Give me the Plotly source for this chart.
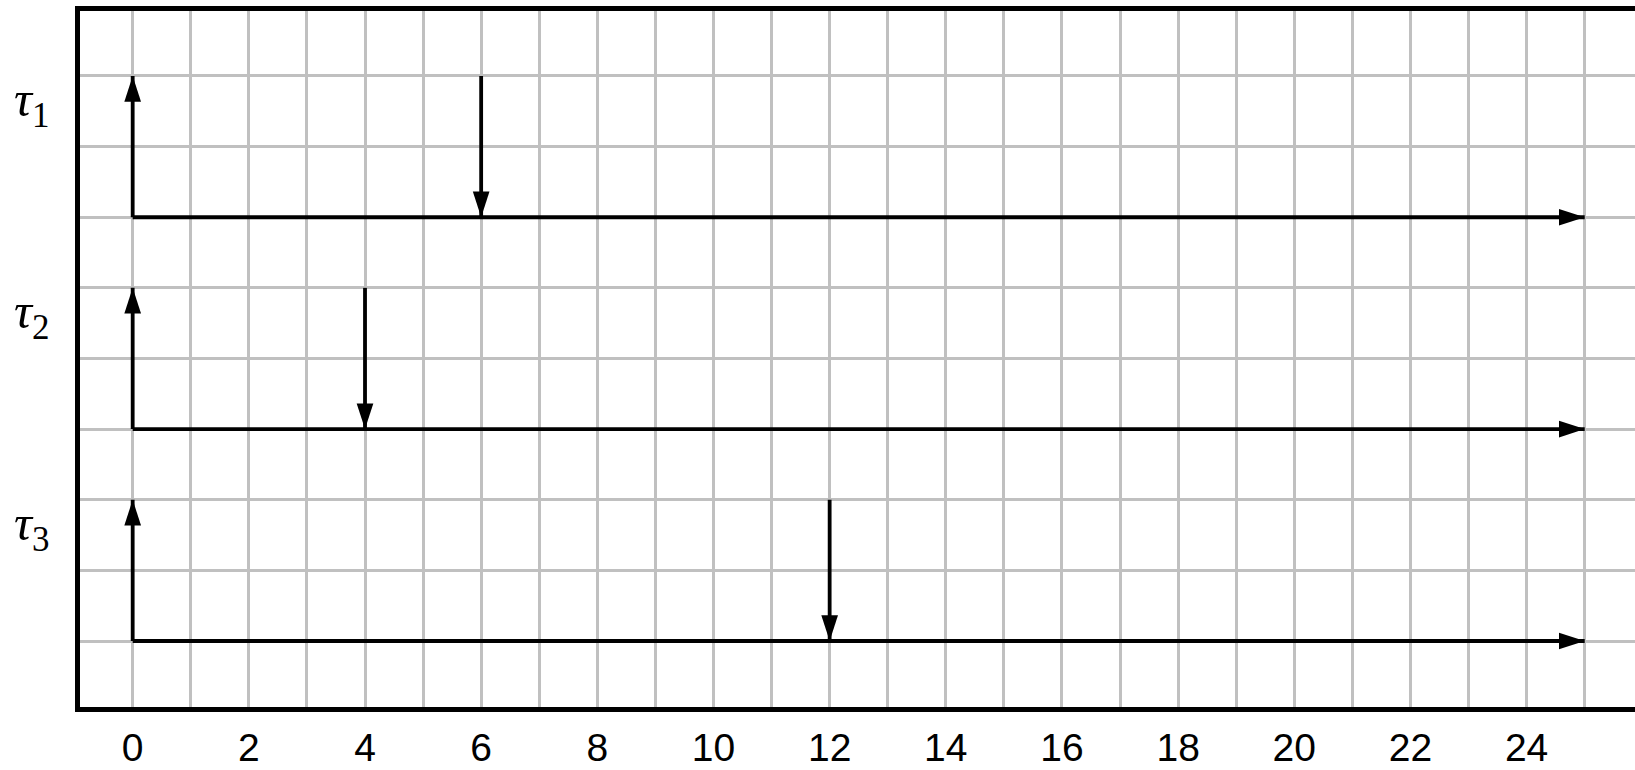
import plotly.graph_objects as go

# ---- data ----
task_symbols = ["τ", "τ", "τ"]
task_indices = ["1", "2", "3"]
release_times = [0, 0, 0]
deadlines = [6, 4, 12]
horizon = 25
x_tick_vals = [0, 2, 4, 6, 8, 10, 12, 14, 16, 18, 20, 22, 24]
x_tick_text = ["0", "2", "4", "6", "8", "10", "12", "14", "16", "18", "20", "22", "24"]
y_grid_vals = [0, 1, 2, 3, 4, 5, 6, 7, 8]

# ---- layout constants ----
row_step = 3      # vertical distance between task baselines
arrow_height = 2  # height of release / deadline arrows
n = len(task_symbols)

fig = go.Figure()

line_style = dict(color="black", width=3.8)
tip_x, tip_y, tip_angle = [], [], []

for i in range(n):
    base = (n - 1 - i) * row_step
    top = base + arrow_height
    r = release_times[i]
    d = deadlines[i]
    # timeline
    fig.add_trace(go.Scatter(x=[r, horizon], y=[base, base], mode="lines",
                             line=line_style, hoverinfo="skip", showlegend=False))
    tip_x.append(horizon); tip_y.append(base); tip_angle.append(90)
    # release arrow (up)
    fig.add_trace(go.Scatter(x=[r, r], y=[base, top], mode="lines",
                             line=line_style, hoverinfo="skip", showlegend=False))
    tip_x.append(r); tip_y.append(top); tip_angle.append(0)
    # deadline arrow (down)
    fig.add_trace(go.Scatter(x=[d, d], y=[top, base], mode="lines",
                             line=line_style, hoverinfo="skip", showlegend=False))
    tip_x.append(d); tip_y.append(base); tip_angle.append(180)
    # task label
    fig.add_annotation(x=-0.0313, xref="paper", y=base + 1.5, yref="y", yshift=8,
                       text="<i>" + task_symbols[i] + "</i><sub>" + task_indices[i] + "</sub>",
                       showarrow=False, xanchor="center", yanchor="middle",
                       font=dict(family="Liberation Serif", size=50, color="black"))

fig.add_trace(go.Scatter(x=tip_x, y=tip_y, mode="markers",
                         marker=dict(symbol="arrow", size=27, angle=tip_angle,
                                     color="black", line=dict(width=0)),
                         hoverinfo="skip", showlegend=False, cliponaxis=False))

grid_color = "rgb(192,192,192)"
fig.update_layout(
    width=1635, height=770,
    margin=dict(l=80, r=0, t=11, b=63, autoexpand=False),
    paper_bgcolor="white", plot_bgcolor="white",
    xaxis=dict(range=[-0.907, 25.866], tickvals=x_tick_vals, ticktext=x_tick_text,
               automargin=False,
               showgrid=True, gridcolor=grid_color, gridwidth=3,
               minor=dict(dtick=1, showgrid=True, gridcolor=grid_color, gridwidth=3),
               zeroline=False, showline=True, linecolor="black", linewidth=4.5,
               mirror=True, ticks="", ticklabelstandoff=2,
               tickfont=dict(family="Liberation Sans", size=39, color="black")),
    yaxis=dict(range=[-0.9345, 8.92], tickvals=y_grid_vals, showticklabels=False,
               automargin=False,
               showgrid=True, gridcolor=grid_color, gridwidth=3,
               zeroline=False, showline=True, linecolor="black", linewidth=4.5,
               mirror=False, ticks=""),
)

fig.write_html(
    "out.html",
    config={"displayModeBar": False},
    post_script="document.body.style.margin='0';document.body.style.overflow='hidden';",
)
